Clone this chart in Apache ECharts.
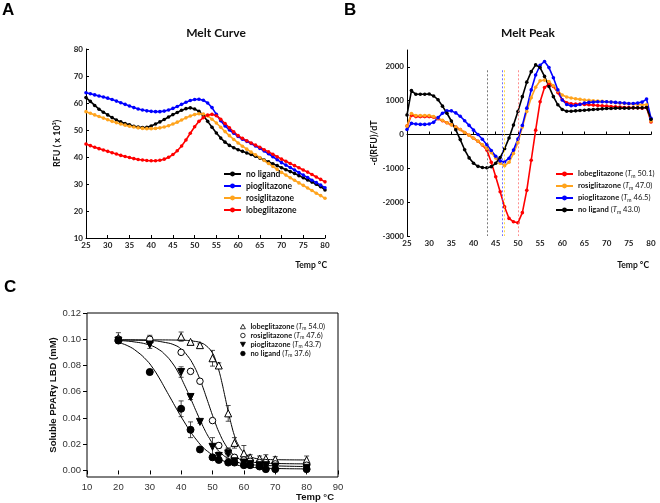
<!DOCTYPE html>
<html><head><meta charset="utf-8">
<script src="https://cdn.jsdelivr.net/npm/echarts@6/dist/echarts.min.js"></script>
<style>html,body{margin:0;padding:0;background:#fff}#c{width:660px;height:503px}</style>
</head><body><div id="c"></div>
<script>
// ---------- Panel A / B temperatures ----------
const tempAB = [25,26,27,28,29,30,31,32,33,34,35,36,37,38,39,40,41,42,43,44,45,46,47,48,49,50,51,52,53,54,55,56,57,58,59,60,61,62,63,64,65,66,67,68,69,70,71,72,73,74,75,76,77,78,79,80];
// ---------- Panel A: Melt Curve (RFU x10^3) ----------
const noLigandA = [62.0,60.6,59.1,57.7,56.6,55.6,54.6,53.7,53.0,52.4,51.9,51.4,51.1,50.9,51.0,51.5,52.2,53.0,53.9,54.8,55.7,56.5,57.3,57.9,58.2,57.8,56.9,55.3,53.2,51.0,48.9,47.0,45.5,44.3,43.4,42.7,42.1,41.5,40.9,40.3,39.6,38.9,38.2,37.5,36.8,36.0,35.3,34.6,33.9,33.1,32.3,31.5,30.7,29.9,29.0,27.8];
const pioA = [63.8,63.4,63.0,62.6,62.2,61.8,61.3,60.7,60.1,59.5,58.9,58.3,57.8,57.4,57.1,56.9,56.8,56.8,57.0,57.4,58.0,58.7,59.5,60.3,60.9,61.3,61.4,61.0,60.0,58.3,55.8,53.4,51.5,50.0,48.8,47.6,46.6,45.8,45.0,44.1,43.2,42.2,41.2,40.1,39.0,37.9,37.0,36.1,35.2,34.2,33.3,32.4,31.4,30.5,29.6,28.6];
const rosiA = [56.8,56.2,55.6,55.0,54.4,53.8,53.2,52.7,52.2,51.8,51.4,51.1,50.8,50.6,50.5,50.5,50.6,50.8,51.1,51.6,52.2,52.9,53.7,54.5,55.2,55.7,56.0,55.9,55.2,54.0,52.6,51.0,49.4,47.9,46.5,45.2,44.0,42.9,41.8,40.8,39.8,38.7,37.6,36.5,35.4,34.3,33.3,32.3,31.4,30.4,29.5,28.5,27.6,26.6,25.7,24.7];
const lobeA = [44.8,44.2,43.6,43.1,42.6,42.1,41.6,41.1,40.6,40.2,39.8,39.4,39.1,38.9,38.7,38.6,38.6,38.8,39.2,39.9,40.9,42.3,44.1,46.3,48.8,51.2,53.2,54.6,55.5,55.8,55.3,54.0,52.4,50.8,49.3,47.9,46.9,46.0,45.2,44.4,43.6,42.7,41.9,41.0,40.1,39.2,38.4,37.6,36.8,36.0,35.2,34.4,33.5,32.6,31.7,30.8];
// ---------- Panel B: Melt Peak -d(RFU)/dT ----------
const lobeB = [250,570,530,530,530,530,510,470,410,350,290,220,150,60,-20,-110,-200,-310,-460,-820,-1250,-1690,-2140,-2480,-2580,-2610,-2310,-1650,-760,130,970,1390,1500,1420,1240,1030,940,910,900,900,890,880,870,860,850,840,830,820,810,800,800,790,790,780,800,370];
const rosiB = [250,620,560,560,560,560,530,480,420,350,290,220,150,60,-20,-110,-200,-300,-410,-540,-690,-850,-920,-820,-560,-240,220,680,1090,1400,1590,1610,1570,1440,1290,1170,1110,1080,1060,1040,1020,1010,1000,990,980,970,960,940,930,920,910,900,890,880,880,400];
const pioB = [150,330,310,300,300,310,360,500,630,700,700,640,540,410,270,130,0,-140,-300,-470,-640,-780,-810,-700,-460,-130,270,780,1320,1760,2050,2160,1980,1680,1320,1020,890,850,860,890,930,950,960,970,970,970,960,950,940,930,920,920,930,960,1050,480];
const noLigandB = [580,1300,1190,1190,1190,1200,1140,1030,840,630,400,140,-150,-450,-690,-850,-940,-975,-980,-950,-850,-680,-420,-100,280,680,1120,1550,1860,2060,1980,1720,1420,1120,880,740,690,690,700,710,720,730,740,750,760,770,770,780,780,780,780,790,790,790,800,450];
const tmB = [50.1, 47.0, 46.5, 43.0];
// ---------- Panel C: soluble PPARg LBD ----------
const tempsC = [20,30,40,43,46,50,52,55,57,60,62,65,67,70,80];
const lobeC  = [0.101,0.100,0.102,0.098,0.0955,0.0855,0.080,0.0435,0.021,0.013,0.010,0.009,0.009,0.0085,0.008];
const lobeErr= [0.004,0.003,0.0035,0.001,0.001,0.006,0.002,0.006,0.004,0.006,0.002,0.002,0.003,0.002,0.003];
const rosiC  = [0.100,0.100,0.090,0.0755,0.068,0.038,0.019,0.014,0.010,0.008,0.007,0.006,0.006,0.005,0.004];
const rosiErr= [0.002,0.002,0.001,0.001,0.001,0.001,0.002,0.003,0.002,0.002,0.002,0.002,0.002,0.002,0.002];
const pioC   = [0.099,0.096,0.075,0.056,0.037,0.018,0.011,0.013,0.007,0.006,0.005,0.004,0.004,0.003,0.002];
const pioErr = [0.002,0.003,0.004,0.002,0.001,0.007,0.003,0.004,0.002,0.002,0.002,0.002,0.002,0.002,0.002];
const noLigC = [0.099,0.075,0.047,0.031,0.016,0.010,0.008,0.006,0.006,0.004,0.004,0.003,0.001,0.001,0.001];
const noLigErr=[0.002,0.002,0.006,0.006,0.001,0.002,0.002,0.001,0.001,0.001,0.001,0.001,0.001,0.001,0.001];
// fitted curves
const lobeFitX = [20,30,40,44,46,48,50,51,52,53,54,55,56,57,58,60,62,65,70,80];
const lobeFitY = [0.0995,0.0995,0.0993,0.0985,0.0975,0.0950,0.0895,0.0840,0.0765,0.0670,0.0560,0.0450,0.0350,0.0265,0.0205,0.0135,0.0105,0.0088,0.0082,0.0080];
const rosiFitX = [20,30,35,38,40,42,44,46,47,48,49,50,51,52,54,56,58,60,65,70,80];
const rosiFitY = [0.0995,0.0990,0.0975,0.0955,0.0925,0.0875,0.0800,0.0695,0.0630,0.0560,0.0490,0.0420,0.0355,0.0295,0.0200,0.0135,0.0095,0.0075,0.0058,0.0053,0.0050];
const pioFitX = [20,25,30,33,35,37,39,41,43,44,45,47,49,51,53,55,58,62,70,80];
const pioFitY = [0.0990,0.0980,0.0955,0.0920,0.0880,0.0825,0.0750,0.0655,0.0550,0.0495,0.0440,0.0335,0.0245,0.0175,0.0125,0.0092,0.0062,0.0045,0.0035,0.0030];
const noLigFitX = [20,23,26,29,31,33,35,37,39,41,43,45,47,49,51,54,58,62,70,80];
const noLigFitY = [0.0975,0.0950,0.0905,0.0840,0.0780,0.0705,0.0620,0.0535,0.0450,0.0370,0.0295,0.0230,0.0175,0.0135,0.0100,0.0068,0.0040,0.0025,0.0015,0.0012];
// ---------- tick labels ----------
const xTicksAB = [25,30,35,40,45,50,55,60,65,70,75,80];
const yTicksA = [10,20,30,40,50,60,70,80];
const yTicksB = [-3000,-2000,-1000,0,1000,2000];
const xTicksC = [10,20,30,40,50,60,70,80,90];
const yTicksC = [0,0.02,0.04,0.06,0.08,0.10,0.12];

const namesA = ['no ligand','pioglitazone','rosiglitazone','lobeglitazone'];
const namesB = ['lobeglitazone (Tm 50.1)','rosiglitazone (Tm 47.0)','pioglitazone (Tm 46.5)','no ligand (Tm 43.0)'];
const namesC = ['lobeglitazone (Tm 54.0)','rosiglitazone (Tm 47.6)','pioglitazone (Tm 43.7)','no ligand (Tm 37.6)'];

const BLACK='#000000', BLUE='#0000FF', ORANGE='#FFA41E', RED='#FF0000';
const calib = 'Lato, "Open Sans", sans-serif';
const arial = '"Liberation Sans", Arial, sans-serif';

function zip(xs, ys){ return xs.map((x,i)=>[x, ys[i]]); }
function errData(xs, ys, es){ return xs.map((x,i)=>[x, ys[i]-es[i], ys[i]+es[i]]); }

function meltLine(name, ys, color, idx){
  return {type:'line', name, xAxisIndex:idx, yAxisIndex:idx, data: zip(tempAB, ys),
    symbol:'circle', symbolSize:3.6, showSymbol:true,
    itemStyle:{color}, lineStyle:{color, width:1.6}};
}

function tmRich(fs){
  return {
    b:{fontWeight:'bold', fontFamily:calib, fontSize:fs, color:'#111'},
    it:{fontStyle:'italic', fontFamily:calib, fontSize:fs, color:'#111'},
    sub:{fontFamily:calib, fontSize:fs*0.68, color:'#111', verticalAlign:'bottom', padding:[3,0,0,0]}
  };
}
function tmFormatter(name){
  return name.replace(/^(.*) \(Tm (.*)\)$/, '{b|$1} ({it|T}{sub|m} $2)');
}

const seriesB = [
  [namesB[0], lobeB, RED, tmB[0], '#FF7070'],
  [namesB[1], rosiB, ORANGE, tmB[1], '#FFD21E'],
  [namesB[2], pioB, BLUE, tmB[2], '#4A4AFF'],
  [namesB[3], noLigandB, BLACK, tmB[3], '#555555']
].map(([n, ys, c, tm, mc]) => Object.assign(meltLine(n, ys, c, 1), {
  markLine:{silent:true, symbol:'none', label:{show:false},
    lineStyle:{type:[2,2], width:0.8, color:mc},
    data:[[{coord:[tm, 1900]},{coord:[tm, -3000]}]]}
}));

function errSeries(xs, ys, es){
  return {type:'custom', xAxisIndex:2, yAxisIndex:2, data: errData(xs, ys, es), z:3,
    renderItem(params, api){
      const x = api.value(0);
      const lo = api.coord([x, api.value(1)]), hi = api.coord([x, api.value(2)]);
      const w = 2.5, st = {stroke:'#222', lineWidth:0.8};
      return {type:'group', children:[
        {type:'line', shape:{x1:lo[0], y1:lo[1], x2:hi[0], y2:hi[1]}, style:st},
        {type:'line', shape:{x1:hi[0]-w, y1:hi[1], x2:hi[0]+w, y2:hi[1]}, style:st},
        {type:'line', shape:{x1:lo[0]-w, y1:lo[1], x2:lo[0]+w, y2:lo[1]}, style:st}
      ]};
    }};
}
function fitSeries(xs, ys){
  return {type:'line', xAxisIndex:2, yAxisIndex:2, data: zip(xs, ys), smooth:0.5, showSymbol:false,
    symbol:'none', lineStyle:{color:'#000', width:1}, z:2, silent:true};
}
function ptSeries(name, ys, symbol, fill, size){
  return {type:'scatter', name, xAxisIndex:2, yAxisIndex:2, data: zip(tempsC, ys), symbol, symbolSize:size,
    itemStyle:{color:fill, borderColor:'#000', borderWidth:1, opacity:1}, z:5};
}
const invTri = 'path://M0,0L10,0L5,9Z';

const axisAB = (min, max, ticks) => ({
  type:'value', min, max,
  axisLine:{show:true, lineStyle:{color:'#000', width:1}},
  axisTick:{show:true, inside:true, length:3, customValues:ticks, lineStyle:{color:'#000'}},
  axisLabel:{customValues:ticks, fontSize:8, fontWeight:'bold', fontFamily:calib, color:'#222', margin:3, formatter:v=>String(v)},
  splitLine:{show:false}
});

const option = {
  animation:false,
  backgroundColor:'#fff',
  grid:[
    {left:86, top:49, width:239, height:189},
    {left:407, top:50, width:244, height:186},
    {left:87, top:313, width:251, height:164, show:true, borderColor:'#000', borderWidth:1, backgroundColor:'transparent'}
  ],
  xAxis:[
    Object.assign(axisAB(25, 80, xTicksAB), {gridIndex:0}),
    Object.assign(axisAB(25, 80, xTicksAB), {gridIndex:1}),
    {gridIndex:2, type:'value', min:10, max:90,
      axisLine:{show:false},
      axisTick:{show:true, inside:false, length:4, customValues:xTicksC, lineStyle:{color:'#000'}},
      axisLabel:{customValues:xTicksC, fontSize:9.5, fontFamily:arial, color:'#333', margin:5},
      splitLine:{show:false}}
  ],
  yAxis:[
    Object.assign(axisAB(10, 80, yTicksA), {gridIndex:0, name:'RFU ( x 10³)', nameLocation:'middle', nameGap:24,
      nameTextStyle:{fontSize:9, fontWeight:'bold', fontFamily:calib, color:'#111'}}),
    Object.assign(axisAB(-3000, 2500, yTicksB), {gridIndex:1, name:'-d(RFU)/dT', nameLocation:'middle', nameGap:23,
      nameTextStyle:{fontSize:9, fontWeight:'bold', fontFamily:calib, color:'#111'}}),
    {gridIndex:2, type:'value', min:-0.005, max:0.12,
      name:'Soluble PPARγ LBD (mM)', nameLocation:'middle', nameGap:26,
      nameTextStyle:{fontSize:9.5, fontWeight:'bold', fontFamily:arial, color:'#111'},
      axisLine:{show:false},
      axisTick:{show:true, inside:false, length:4, customValues:yTicksC, lineStyle:{color:'#000'}},
      axisLabel:{customValues:yTicksC, fontSize:9.5, fontFamily:arial, color:'#333', margin:6, formatter:v=>v.toFixed(2)},
      splitLine:{show:false}}
  ],
  legend:[
    {data:namesA, orient:'vertical', left:223, top:169, padding:0, itemWidth:17, itemHeight:6, itemGap:2, itemTextGap:3,
      selectedMode:false, textStyle:{fontSize:8.5, fontWeight:'bold', fontFamily:calib, color:'#111', lineHeight:10}},
    {data:namesB, orient:'vertical', left:555, top:169, padding:0, itemWidth:17, itemHeight:6, itemGap:2, itemTextGap:4,
      selectedMode:false, formatter:tmFormatter, textStyle:{fontSize:7.6, fontFamily:calib, color:'#111', lineHeight:10, rich:tmRich(7.6)}},
    {data:namesC, orient:'vertical', left:240, top:322, padding:0, itemWidth:5, itemHeight:4.5, itemGap:0, itemTextGap:5,
      selectedMode:false, formatter:tmFormatter, itemStyle:{borderWidth:0.8},
      textStyle:{fontSize:7.4, fontFamily:calib, color:'#111', lineHeight:9, rich:tmRich(7.4)}}
  ],
  graphic:[
    {type:'text', x:2, y:2, style:{text:'A', font:'bold 17px "Liberation Sans"', fill:'#000', textAlign:'left', textVerticalAlign:'top', align:'left', verticalAlign:'top'}},
    {type:'text', x:344, y:2, style:{text:'B', font:'bold 17px "Liberation Sans"', fill:'#000', textAlign:'left', textVerticalAlign:'top', align:'left', verticalAlign:'top'}},
    {type:'text', x:4, y:279, style:{text:'C', font:'bold 17px "Liberation Sans"', fill:'#000', textAlign:'left', textVerticalAlign:'top', align:'left', verticalAlign:'top'}},
    {type:'text', x:216, y:33, style:{text:'Melt Curve', font:'bold 12px Lato', fill:'#111', textAlign:'center', textVerticalAlign:'middle', align:'center', verticalAlign:'middle'}},
    {type:'text', x:528, y:33, style:{text:'Melt Peak', font:'bold 12px Lato', fill:'#111', textAlign:'center', textVerticalAlign:'middle', align:'center', verticalAlign:'middle'}},
    {type:'text', x:327, y:265, style:{text:'Temp °C', font:'bold 8.5px Lato', fill:'#111', textAlign:'right', textVerticalAlign:'middle', align:'right', verticalAlign:'middle'}},
    {type:'text', x:649, y:265, style:{text:'Temp °C', font:'bold 8.5px Lato', fill:'#111', textAlign:'right', textVerticalAlign:'middle', align:'right', verticalAlign:'middle'}},
    {type:'text', x:334, y:497, style:{text:'Temp °C', font:'bold 9.5px "Liberation Sans"', fill:'#111', textAlign:'right', textVerticalAlign:'middle', align:'right', verticalAlign:'middle'}}
  ],
  series:[
    meltLine(namesA[0], noLigandA, BLACK, 0),
    meltLine(namesA[1], pioA, BLUE, 0),
    meltLine(namesA[2], rosiA, ORANGE, 0),
    meltLine(namesA[3], lobeA, RED, 0),
    ...seriesB,
    fitSeries(lobeFitX, lobeFitY), fitSeries(rosiFitX, rosiFitY), fitSeries(pioFitX, pioFitY), fitSeries(noLigFitX, noLigFitY),
    errSeries(tempsC, lobeC, lobeErr), errSeries(tempsC, rosiC, rosiErr), errSeries(tempsC, pioC, pioErr), errSeries(tempsC, noLigC, noLigErr),
    ptSeries(namesC[0], lobeC, 'triangle', '#fff', 7),
    ptSeries(namesC[1], rosiC, 'circle', '#fff', 6.5),
    ptSeries(namesC[2], pioC, invTri, '#000', 7),
    ptSeries(namesC[3], noLigC, 'circle', '#000', 7)
  ]
};
const chart = echarts.init(document.getElementById('c'), null, {renderer:'canvas'});
chart.setOption(option);
</script></body></html>
